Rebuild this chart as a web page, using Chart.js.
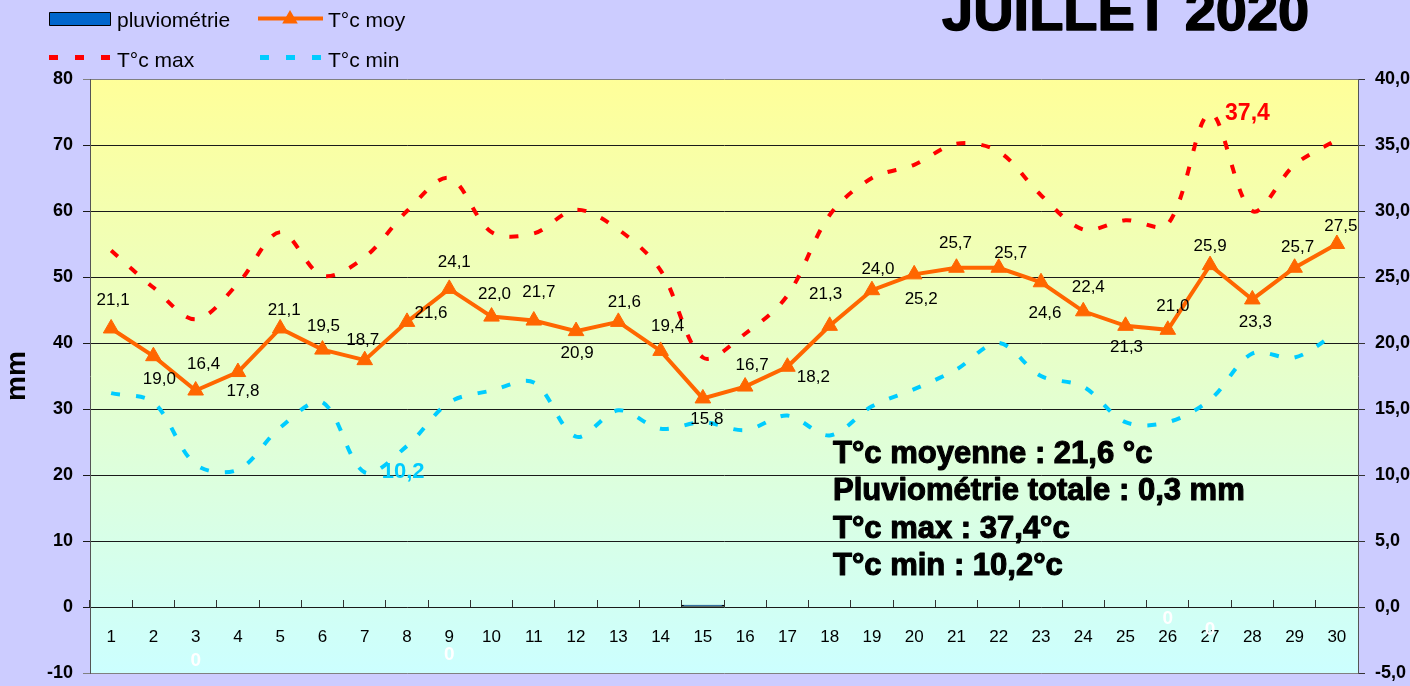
<!DOCTYPE html>
<html>
<head>
<meta charset="utf-8">
<script src="https://cdn.jsdelivr.net/npm/chart.js@4.4.0/dist/chart.umd.min.js"></script>
<style>
  html, body { margin: 0; padding: 0; background: #ccccff; }
  #wrap { width: 1410px; height: 686px; position: relative; }
</style>
</head>
<body>
<div id="wrap"><canvas id="chart"></canvas></div>
<script>
// July 2020 weather station data
const days = ['1', '2', '3', '4', '5', '6', '7', '8', '9', '10', '11', '12', '13', '14', '15',
  '16', '17', '18', '19', '20', '21', '22', '23', '24', '25', '26', '27', '28', '29', '30'];
const rain = [0, 0, 0, 0, 0, 0, 0, 0, 0, 0, 0, 0, 0, 0, 0.3,
  0, 0, 0, 0, 0, 0, 0, 0, 0, 0, 0, 0, 0, 0, 0];
const tMoy = [21.1, 19.0, 16.4, 17.8, 21.1, 19.5, 18.7, 21.6, 24.1, 22.0, 21.7, 20.9, 21.6, 19.4, 15.8,
  16.7, 18.2, 21.3, 24.0, 25.2, 25.7, 25.7, 24.6, 22.4, 21.3, 21.0, 25.9, 23.3, 25.7, 27.5];
const tMax = [27.0, 24.2, 21.8, 24.5, 28.4, 25.1, 26.5, 30.0, 32.5, 28.4, 28.3, 30.1, 28.6, 25.5, 18.9,
  20.7, 23.6, 29.7, 32.5, 33.5, 35.1, 34.5, 31.2, 28.6, 29.3, 29.0, 37.4, 30.0, 33.5, 35.4];
const tMin = [16.2, 15.5, 10.8, 10.4, 13.6, 15.5, 10.2, 12.2, 15.5, 16.4, 17.0, 12.9, 14.9, 13.5, 14.0,
  13.4, 14.5, 13.0, 15.2, 16.5, 18.0, 20.0, 17.5, 16.7, 14.0, 14.0, 15.7, 19.2, 18.9, 20.8];

const title = 'JUILLET 2020';
const summaryLines = ['T°c moyenne : 21,6 °c', 'Pluviométrie totale : 0,3 mm', 'T°c max : 37,4°c', 'T°c min : 10,2°c'];

const FONT = "'Liberation Sans', Arial, sans-serif";
const fmt = v => v.toFixed(1).replace('.', ',');

// where each T moy label sits relative to its marker (like hand-placed Excel labels)
const moyLabelShift = [
  [2, -28], [6, 23], [8, -26], [5, 19], [4, -18], [1, -23], [-2, -20], [24, -9], [5, -27], [3, -22],
  [5, -28], [1, 22], [6, -20], [7, -25], [4, 21], [7, -21], [26, 11], [-4, -32], [6, -21], [7, 25],
  [-1, -24], [12, -14], [4, 31], [5, -24], [1, 21], [5, -23], [0, -19], [3, 23], [3, -20], [4, -18]
];
// the few stray white "0" rain labels that are visible
const rainZeroShift = { 2: 54, 8: 48, 25: 12, 26: 23 };

const bgPlugin = {
  id: 'bg',
  beforeDraw(chart) {
    const { ctx, chartArea: a } = chart;
    ctx.save();
    ctx.fillStyle = '#ccccff';
    ctx.fillRect(0, 0, chart.width, chart.height);
    const g = ctx.createLinearGradient(0, a.top, 0, a.bottom);
    g.addColorStop(0, '#ffff99');
    g.addColorStop(1, '#ccffff');
    ctx.fillStyle = g;
    ctx.fillRect(a.left, a.top, a.right - a.left, a.bottom - a.top);
    ctx.restore();
  }
};

const labelPlugin = {
  id: 'labels',
  afterDatasetsDraw(chart) {
    const ctx = chart.ctx;
    ctx.save();
    ctx.textBaseline = 'middle';

    // T moy labels
    const moy = chart.getDatasetMeta(3).data;
    ctx.fillStyle = '#000';
    ctx.font = '17px ' + FONT;
    ctx.textAlign = 'center';
    moy.forEach((p, i) => {
      const [dx, dy] = moyLabelShift[i];
      ctx.fillText(fmt(tMoy[i]), p.x + dx, p.y + dy);
    });

    // max / min labels
    const iMax = tMax.indexOf(Math.max(...tMax));
    const pMax = chart.getDatasetMeta(2).data[iMax];
    ctx.textAlign = 'left';
    ctx.fillStyle = '#ff0000';
    ctx.font = 'bold 23px ' + FONT;
    ctx.fillText(fmt(tMax[iMax]), pMax.x + 15, pMax.y);

    const iMin = tMin.indexOf(Math.min(...tMin));
    const pMin = chart.getDatasetMeta(1).data[iMin];
    ctx.fillStyle = '#00ccff';
    ctx.font = 'bold 22px ' + FONT;
    ctx.fillText(fmt(tMin[iMin]), pMin.x + 17, pMin.y);

    // rain labels
    const bars = chart.getDatasetMeta(0).data;
    ctx.fillStyle = '#ffffff';
    ctx.font = 'bold 19px ' + FONT;
    ctx.textAlign = 'center';
    Object.keys(rainZeroShift).forEach(k => {
      const b = bars[k];
      ctx.fillText(String(rain[k]), b.x, b.y + rainZeroShift[k]);
    });
    ctx.restore();
  }
};

// bold text with a thin outline so it reads as heavy as the original
function heavyText(ctx, text, x, y, w) {
  ctx.lineWidth = w;
  ctx.strokeStyle = ctx.fillStyle;
  ctx.lineJoin = 'round';
  ctx.strokeText(text, x, y);
  ctx.fillText(text, x, y);
}

const decoPlugin = {
  id: 'deco',
  afterDraw(chart) {
    const ctx = chart.ctx;
    ctx.save();
    // title
    ctx.fillStyle = '#000';
    ctx.font = 'bold 56px ' + FONT;
    ctx.textAlign = 'left';
    ctx.textBaseline = 'alphabetic';
    heavyText(ctx, title, 942, 30, 1.5);

    // summary box
    ctx.font = 'bold 31px ' + FONT;
    summaryLines.forEach((t, i) => heavyText(ctx, t, 833, 463 + i * 37.3, 1.1));

    // legend
    ctx.font = '21px ' + FONT;
    ctx.fillStyle = '#0066cc';
    ctx.fillRect(49.5, 12.5, 61, 13);
    ctx.strokeStyle = '#000';
    ctx.lineWidth = 1;
    ctx.strokeRect(49.5, 12.5, 61, 13);

    ctx.strokeStyle = '#ff6600';
    ctx.lineWidth = 4;
    ctx.beginPath(); ctx.moveTo(258, 18.5); ctx.lineTo(323, 18.5); ctx.stroke();
    ctx.fillStyle = '#ff6600';
    Chart.helpers.drawPoint(ctx, { pointStyle: 'triangle', radius: 9, borderWidth: 0 }, 290, 19);

    ctx.lineWidth = 5;
    ctx.setLineDash([9, 17]);
    ctx.strokeStyle = '#ff0000';
    ctx.beginPath(); ctx.moveTo(49, 57.5); ctx.lineTo(111, 57.5); ctx.stroke();
    ctx.strokeStyle = '#00ccff';
    ctx.beginPath(); ctx.moveTo(260, 57.5); ctx.lineTo(322, 57.5); ctx.stroke();
    ctx.setLineDash([]);

    ctx.fillStyle = '#000';
    ctx.fillText('pluviométrie', 117, 27);
    ctx.fillText('T°c moy', 328, 27);
    ctx.fillText('T°c max', 117, 67);
    ctx.fillText('T°c min', 328, 67);
    ctx.restore();
  }
};

// fixed axis widths; drop the label overhang so the plot fills the height
const fixAxis = w => s => { s.width = w; s.paddingTop = 0; s.paddingBottom = 0; };

const ctx = document.getElementById('chart').getContext('2d');
new Chart(ctx, {
  type: 'line',
  data: {
    labels: days,
    datasets: [
      {
        type: 'bar', label: 'pluviométrie', data: rain, yAxisID: 'y',
        backgroundColor: '#0066cc', borderColor: '#000', borderWidth: 2, borderSkipped: false,
        barPercentage: 1, categoryPercentage: 1, order: 4
      },
      {
        label: 'T°c min', data: tMin, yAxisID: 'y2',
        borderColor: '#00ccff', borderWidth: 4, borderDash: [9, 16], borderCapStyle: 'butt',
        tension: 0.33, pointRadius: 0, order: 3
      },
      {
        label: 'T°c max', data: tMax, yAxisID: 'y2',
        borderColor: '#ff0000', borderWidth: 4, borderDash: [9, 16], borderCapStyle: 'butt',
        tension: 0.33, pointRadius: 0, order: 2
      },
      {
        label: 'T°c moy', data: tMoy, yAxisID: 'y2',
        borderColor: '#ff6600', backgroundColor: '#ff6600', borderWidth: 4, tension: 0,
        pointStyle: 'triangle', pointRadius: 9, pointBorderWidth: 1,
        pointBackgroundColor: '#ff6600', pointBorderColor: '#ff6600', order: 1
      }
    ]
  },
  options: {
    responsive: true,
    maintainAspectRatio: false,
    animation: false,
    layout: { padding: { top: 79, bottom: 13, left: 0, right: 0 } },
    plugins: {
      legend: { display: false },
      title: { display: false },
      tooltip: { enabled: false }
    },
    scales: {
      x: {
        position: { y: 0 },
        offset: true,
        grid: { offset: true, drawOnChartArea: false, tickLength: -7, color: '#333' },
        border: { display: false },
        ticks: { color: '#000', font: { family: FONT, size: 17 }, padding: 27, maxRotation: 0, autoSkip: false }
      },
      y: {
        position: 'left',
        min: -10, max: 80,
        afterFit: fixAxis(90),
        ticks: { stepSize: 10, padding: 10, color: '#000', font: { family: FONT, size: 18, weight: 'bold' } },
        grid: {
          tickLength: 7,
          color: c => (c.tick.value === 80 || c.tick.value === -10) ? '#808080' : '#1a1a1a'
        },
        border: { color: '#555', width: 1 },
        title: { display: true, text: 'mm', color: '#000', padding: 0, font: { family: FONT, size: 28, weight: 'bold' } }
      },
      y2: {
        position: 'right',
        min: -5, max: 40,
        afterFit: fixAxis(52),
        ticks: { stepSize: 5, padding: 10, color: '#000', font: { family: FONT, size: 18, weight: 'bold' }, callback: v => fmt(v) },
        grid: { drawOnChartArea: false, tickLength: 7, color: '#333' },
        border: { color: '#555', width: 1 }
      }
    }
  },
  plugins: [bgPlugin, labelPlugin, decoPlugin]
});
</script>
</body>
</html>
